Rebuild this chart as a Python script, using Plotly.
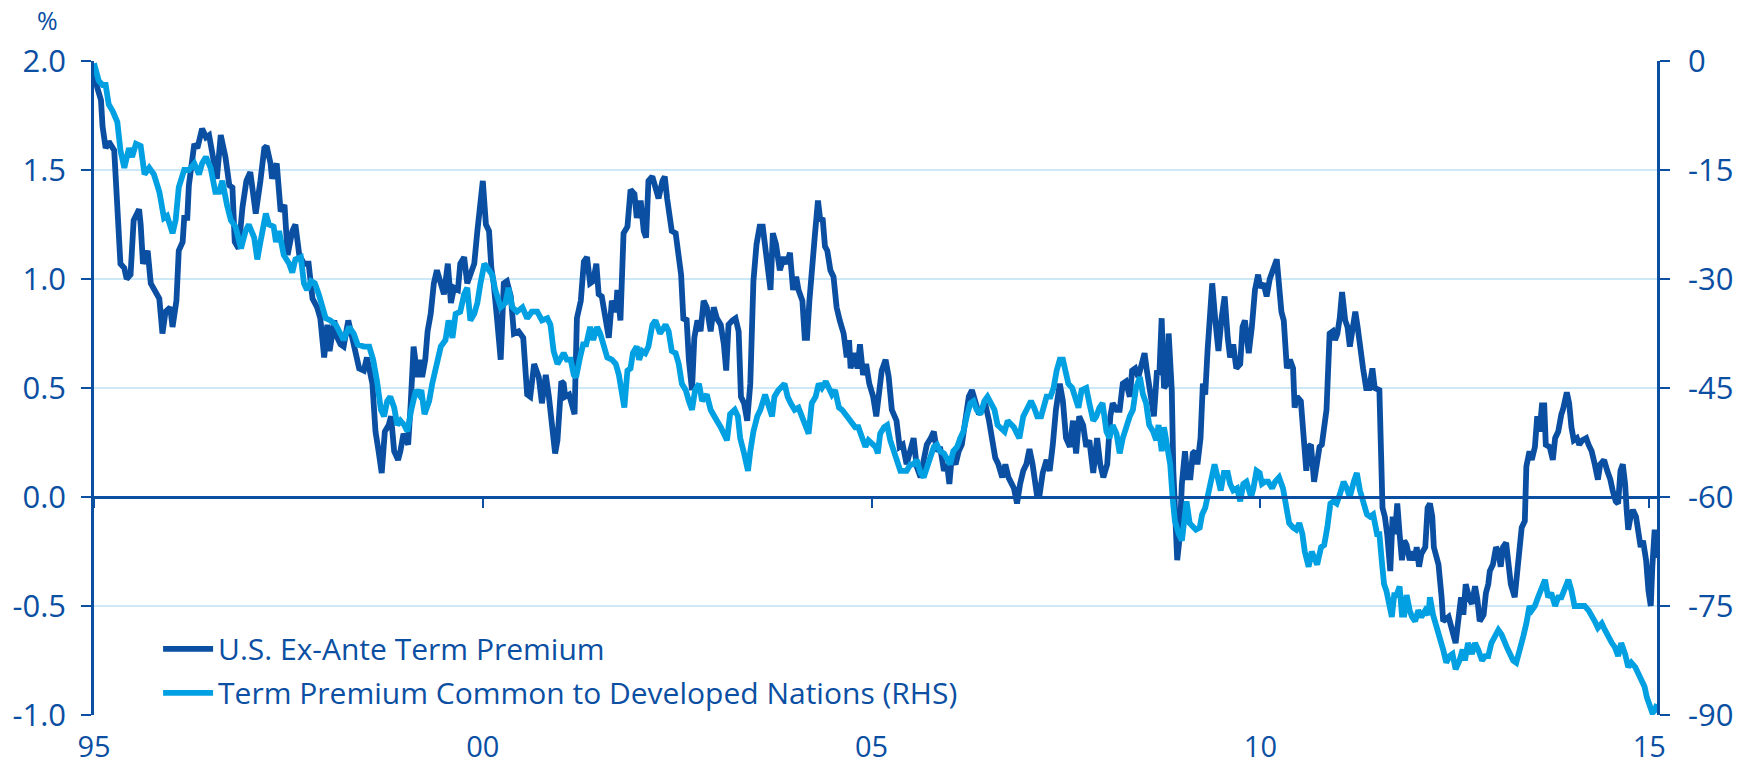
import plotly.graph_objects as go

# ---------------- data ----------------
# U.S. ex-ante term premium, % (left axis)
us_year = [
    1995.00, 1995.04, 1995.09, 1995.11, 1995.15, 1995.19, 1995.26, 1995.29, 1995.34, 1995.39,
    1995.42, 1995.47, 1995.51, 1995.58, 1995.60, 1995.63, 1995.69, 1995.73, 1995.77, 1995.84,
    1995.88, 1995.92, 1995.98, 1996.01, 1996.06, 1996.09, 1996.14, 1996.16, 1996.20, 1996.22,
    1996.29, 1996.33, 1996.39, 1996.44, 1996.48, 1996.52, 1996.58, 1996.63, 1996.69, 1996.74,
    1996.78, 1996.81, 1996.86, 1996.91, 1996.96, 1997.01, 1997.08, 1997.14, 1997.19, 1997.22,
    1997.27, 1997.29, 1997.35, 1997.40, 1997.45, 1997.49, 1997.55, 1997.59, 1997.64, 1997.70,
    1997.76, 1997.81, 1997.87,
    1997.91, 1997.96, 1998.00, 1998.03, 1998.09, 1998.13, 1998.17, 1998.21, 1998.27, 1998.32,
    1998.36, 1998.41, 1998.47, 1998.51, 1998.58, 1998.62, 1998.66, 1998.70, 1998.74, 1998.79,
    1998.82, 1998.86, 1998.91, 1998.94, 1998.98, 1999.04, 1999.07, 1999.11, 1999.16, 1999.20,
    1999.22, 1999.26, 1999.29, 1999.33, 1999.37, 1999.41, 1999.46, 1999.50, 1999.55, 1999.59,
    1999.63, 1999.68, 1999.71, 1999.76, 1999.80, 1999.84, 1999.89, 1999.93, 1999.97, 2000.00,
    2000.04, 2000.08, 2000.11, 2000.14, 2000.19, 2000.23, 2000.27, 2000.31, 2000.36, 2000.40,
    2000.46, 2000.52, 2000.57, 2000.61, 2000.66, 2000.72, 2000.76, 2000.81, 2000.85,
    2000.91, 2000.93, 2000.96, 2001.01, 2001.04, 2001.06, 2001.11, 2001.15, 2001.18, 2001.21,
    2001.26, 2001.30, 2001.34, 2001.38, 2001.42, 2001.46, 2001.49, 2001.53, 2001.58, 2001.62,
    2001.66, 2001.71, 2001.73, 2001.77, 2001.81, 2001.86, 2001.90, 2001.95, 2001.98, 2002.03,
    2002.07, 2002.10, 2002.13, 2002.18, 2002.22, 2002.26, 2002.31, 2002.34, 2002.37, 2002.40,
    2002.43, 2002.48, 2002.52, 2002.55, 2002.58, 2002.62, 2002.65, 2002.69, 2002.72, 2002.76,
    2002.80, 2002.84, 2002.88, 2002.93, 2002.97, 2003.01, 2003.06, 2003.10, 2003.13, 2003.16,
    2003.21, 2003.25, 2003.29, 2003.32, 2003.36, 2003.40, 2003.44, 2003.48, 2003.52, 2003.56,
    2003.60, 2003.65, 2003.70, 2003.73, 2003.77, 2003.82,
    2003.87, 2003.91, 2003.95, 2003.99, 2004.03, 2004.06, 2004.11, 2004.14, 2004.17, 2004.20,
    2004.23, 2004.27, 2004.31, 2004.34, 2004.37, 2004.40, 2004.43, 2004.47, 2004.51, 2004.55,
    2004.59, 2004.64, 2004.68, 2004.71, 2004.73, 2004.78, 2004.82, 2004.85, 2004.89, 2004.93,
    2004.97, 2005.02, 2005.06, 2005.10, 2005.13, 2005.18, 2005.22, 2005.26, 2005.32, 2005.36,
    2005.40, 2005.45, 2005.49, 2005.54, 2005.58, 2005.63, 2005.67, 2005.71, 2005.76, 2005.80,
    2005.84, 2005.88, 2005.93, 2005.97, 2006.00, 2006.03, 2006.08, 2006.12, 2006.16, 2006.21,
    2006.25, 2006.29, 2006.33, 2006.38, 2006.42, 2006.46, 2006.51, 2006.55, 2006.59, 2006.63,
    2006.68, 2006.72, 2006.76,
    2006.83, 2006.87, 2006.91, 2006.95, 2006.99, 2007.03, 2007.07, 2007.13, 2007.16, 2007.20,
    2007.25, 2007.29, 2007.33, 2007.37, 2007.42, 2007.46, 2007.50, 2007.55, 2007.59, 2007.63,
    2007.67, 2007.72, 2007.76, 2007.80, 2007.85, 2007.90, 2007.94, 2007.98, 2008.03, 2008.07,
    2008.10, 2008.15, 2008.19, 2008.23, 2008.27, 2008.32, 2008.35, 2008.39, 2008.43, 2008.48,
    2008.51, 2008.54, 2008.58, 2008.63, 2008.67, 2008.70, 2008.73, 2008.76, 2008.80, 2008.82,
    2008.86, 2008.88, 2008.93, 2008.96, 2008.99, 2009.03, 2009.06, 2009.10, 2009.13, 2009.16,
    2009.19, 2009.23, 2009.26, 2009.29, 2009.32, 2009.35, 2009.38, 2009.42, 2009.46, 2009.50,
    2009.54, 2009.58, 2009.61, 2009.65, 2009.69,
    2009.74, 2009.77, 2009.80, 2009.85, 2009.89, 2009.93, 2009.97, 2010.00, 2010.04, 2010.08,
    2010.12, 2010.17, 2010.21, 2010.27, 2010.30, 2010.32, 2010.34, 2010.38, 2010.42, 2010.44,
    2010.47, 2010.52, 2010.55, 2010.59, 2010.62, 2010.65, 2010.69, 2010.72, 2010.76, 2010.79,
    2010.82, 2010.85, 2010.89, 2010.93, 2010.96, 2010.99, 2011.02, 2011.05, 2011.09, 2011.12,
    2011.15, 2011.19, 2011.22, 2011.25, 2011.28, 2011.32, 2011.36, 2011.40, 2011.44, 2011.47,
    2011.53, 2011.55, 2011.57, 2011.60, 2011.63, 2011.67, 2011.70, 2011.73, 2011.76, 2011.79,
    2011.82, 2011.85, 2011.88, 2011.92, 2011.95, 2011.98, 2012.01, 2012.04, 2012.07, 2012.12,
    2012.15,
    2012.18, 2012.21, 2012.23, 2012.29, 2012.33, 2012.35, 2012.42, 2012.46, 2012.48, 2012.51,
    2012.55, 2012.58, 2012.61, 2012.64, 2012.69, 2012.72, 2012.76, 2012.79, 2012.82, 2012.87,
    2012.90, 2012.93, 2012.95, 2012.99, 2013.03, 2013.06, 2013.09, 2013.12, 2013.16, 2013.19,
    2013.22, 2013.27, 2013.30, 2013.34, 2013.36, 2013.40, 2013.42, 2013.46, 2013.49, 2013.53,
    2013.56, 2013.59, 2013.62, 2013.65, 2013.67, 2013.72, 2013.76, 2013.79, 2013.83, 2013.87,
    2013.89, 2013.94, 2013.97, 2014.00, 2014.03, 2014.07, 2014.10, 2014.14, 2014.19, 2014.22,
    2014.26, 2014.30, 2014.34, 2014.37, 2014.42, 2014.46, 2014.50, 2014.53, 2014.57, 2014.60,
    2014.63, 2014.66, 2014.69, 2014.71, 2014.73, 2014.76, 2014.79, 2014.83, 2014.86, 2014.89,
    2014.92, 2014.96, 2014.99, 2015.02, 2015.04, 2015.07, 2015.10,
]
us_tp = [
    1.98, 1.88, 1.82, 1.70, 1.60, 1.63, 1.59, 1.34, 1.07, 1.05,
    1.00, 1.02, 1.27, 1.32, 1.25, 1.07, 1.13, 0.98, 0.95, 0.91,
    0.75, 0.85, 0.87, 0.78, 0.90, 1.13, 1.17, 1.28, 1.28, 1.43,
    1.62, 1.60, 1.69, 1.65, 1.66, 1.59, 1.46, 1.66, 1.56, 1.43,
    1.42, 1.17, 1.14, 1.33, 1.45, 1.49, 1.30, 1.45, 1.60, 1.61,
    1.53, 1.46, 1.53, 1.31, 1.34, 1.11, 1.22, 1.25, 1.11, 1.07,
    1.07, 0.91, 0.87,
    0.82, 0.64, 0.79, 0.67, 0.81, 0.73, 0.70, 0.69, 0.81, 0.73,
    0.64, 0.59, 0.58, 0.64, 0.52, 0.30, 0.21, 0.11, 0.30, 0.33,
    0.37, 0.21, 0.17, 0.21, 0.29, 0.24, 0.41, 0.69, 0.55, 0.63,
    0.55, 0.63, 0.76, 0.84, 0.98, 1.04, 0.98, 0.93, 1.07, 0.89,
    0.96, 0.95, 1.07, 1.10, 0.98, 1.02, 1.07, 1.22, 1.37, 1.45,
    1.25, 1.22, 1.05, 0.98, 0.79, 0.63, 0.98, 0.99, 0.92, 0.75,
    0.76, 0.73, 0.47, 0.46, 0.61, 0.55, 0.43, 0.56, 0.46,
    0.24, 0.20, 0.26, 0.53, 0.52, 0.46, 0.47, 0.41, 0.38, 0.82,
    0.90, 1.08, 1.10, 0.98, 0.99, 1.07, 0.93, 0.92, 0.79, 0.73,
    0.90, 0.85, 0.95, 0.81, 1.21, 1.24, 1.41, 1.39, 1.28, 1.36,
    1.22, 1.19, 1.45, 1.47, 1.42, 1.37, 1.45, 1.47, 1.37, 1.31,
    1.22, 1.21, 1.07, 1.02, 0.81, 0.82, 0.63, 0.49, 0.73, 0.81,
    0.76, 0.90, 0.87, 0.76, 0.87, 0.82, 0.79, 0.70, 0.58, 0.79,
    0.81, 0.82, 0.76, 0.46, 0.43, 0.35, 0.52, 0.99, 1.16, 1.24,
    1.24, 1.07, 0.95, 1.21, 1.16, 1.04,
    1.10, 1.07, 1.12, 0.95, 1.01, 0.95, 0.90, 0.73, 0.73, 0.90,
    1.07, 1.20, 1.36, 1.27, 1.28, 1.15, 1.13, 1.04, 1.01, 0.87,
    0.81, 0.75, 0.64, 0.72, 0.59, 0.66, 0.59, 0.70, 0.56, 0.61,
    0.52, 0.46, 0.37, 0.47, 0.58, 0.63, 0.55, 0.40, 0.35, 0.23,
    0.24, 0.15, 0.21, 0.27, 0.14, 0.09, 0.17, 0.24, 0.27, 0.30,
    0.21, 0.23, 0.12, 0.15, 0.06, 0.18, 0.15, 0.21, 0.24, 0.38,
    0.46, 0.49, 0.44, 0.38, 0.40, 0.43, 0.35, 0.27, 0.18, 0.15,
    0.09, 0.15, 0.09,
    0.04, -0.03, 0.06, 0.12, 0.15, 0.22, 0.15, 0.00, 0.01, 0.11,
    0.17, 0.12, 0.24, 0.40, 0.52, 0.44, 0.27, 0.23, 0.35, 0.20,
    0.37, 0.33, 0.23, 0.26, 0.11, 0.27, 0.15, 0.09, 0.15, 0.37,
    0.43, 0.40, 0.40, 0.52, 0.53, 0.46, 0.58, 0.59, 0.55, 0.64,
    0.66, 0.58, 0.49, 0.37, 0.58, 0.56, 0.82, 0.50, 0.52, 0.75,
    0.49, 0.12, -0.29, -0.19, 0.06, 0.21, 0.09, 0.09, 0.20, 0.21,
    0.15, 0.27, 0.52, 0.47, 0.67, 0.87, 0.98, 0.81, 0.67, 0.82,
    0.92, 0.73, 0.64, 0.70, 0.59,
    0.61, 0.78, 0.81, 0.66, 0.78, 0.95, 1.02, 0.96, 0.98, 0.92,
    1.00, 1.06, 1.09, 0.85, 0.81, 0.70, 0.59, 0.63, 0.59, 0.41,
    0.46, 0.44, 0.26, 0.12, 0.23, 0.24, 0.07, 0.14, 0.23, 0.24,
    0.35, 0.40, 0.75, 0.76, 0.72, 0.75, 0.82, 0.94, 0.81, 0.78,
    0.69, 0.78, 0.85, 0.78, 0.67, 0.59, 0.50, 0.50, 0.59, 0.50,
    0.49, 0.29, -0.05, -0.09, -0.17, -0.34, -0.09, -0.17, -0.03, -0.17,
    -0.29, -0.20, -0.22, -0.29, -0.25, -0.29, -0.23, -0.32, -0.26, -0.23,
    -0.05,
    -0.03, -0.09, -0.23, -0.31, -0.46, -0.57, -0.55, -0.60, -0.64, -0.67,
    -0.55, -0.46, -0.54, -0.40, -0.47, -0.49, -0.41, -0.47, -0.57, -0.54,
    -0.44, -0.40, -0.34, -0.31, -0.23, -0.25, -0.32, -0.23, -0.21, -0.31,
    -0.40, -0.46, -0.34, -0.21, -0.14, -0.11, 0.14, 0.21, 0.17, 0.23,
    0.37, 0.30, 0.42, 0.42, 0.24, 0.23, 0.17, 0.27, 0.30, 0.38,
    0.40, 0.48, 0.43, 0.32, 0.26, 0.27, 0.24, 0.26, 0.27, 0.24,
    0.21, 0.15, 0.08, 0.15, 0.17, 0.12, 0.08, 0.03, -0.02, -0.03,
    0.12, 0.15, 0.06, -0.06, -0.15, -0.09, -0.06, -0.09, -0.15, -0.23,
    -0.20, -0.29, -0.43, -0.50, -0.32, -0.15, -0.28,
]

# Term premium common to developed nations (right axis, RHS units)
dn_year = [
    1995.00, 1995.06, 1995.11, 1995.15, 1995.19, 1995.24, 1995.30, 1995.34, 1995.39, 1995.45,
    1995.49, 1995.54, 1995.60, 1995.65, 1995.71, 1995.77, 1995.84, 1995.90, 1995.94, 1996.01,
    1996.05, 1996.09, 1996.16, 1996.22, 1996.29, 1996.35, 1996.39, 1996.44, 1996.50, 1996.56,
    1996.61, 1996.65, 1996.71, 1996.76, 1996.82, 1996.89, 1996.95, 1996.99, 1997.06, 1997.10,
    1997.14, 1997.21, 1997.25, 1997.31, 1997.34, 1997.38, 1997.44, 1997.51, 1997.55, 1997.59,
    1997.66, 1997.70, 1997.74, 1997.79, 1997.84, 1997.89,
    1997.98, 1998.04, 1998.11, 1998.15, 1998.21, 1998.28, 1998.34, 1998.39, 1998.47, 1998.54,
    1998.59, 1998.64, 1998.69, 1998.73, 1998.77, 1998.81, 1998.86, 1998.90, 1998.94, 1998.99,
    1999.03, 1999.08, 1999.14, 1999.18, 1999.21, 1999.25, 1999.31, 1999.35, 1999.40, 1999.46,
    1999.52, 1999.56, 1999.61, 1999.65, 1999.71, 1999.76, 1999.80, 1999.84, 1999.89, 1999.93,
    1999.97, 2000.02, 2000.08, 2000.12, 2000.16, 2000.23, 2000.29, 2000.33, 2000.38, 2000.44,
    2000.51, 2000.57, 2000.63, 2000.70, 2000.76, 2000.83,
    2000.87, 2000.91, 2000.96, 2001.00, 2001.04, 2001.08, 2001.13, 2001.17, 2001.20, 2001.25,
    2001.29, 2001.33, 2001.38, 2001.42, 2001.47, 2001.51, 2001.56, 2001.60, 2001.66, 2001.71,
    2001.75, 2001.79, 2001.82, 2001.86, 2001.90, 2001.93, 2001.98, 2002.01, 2002.05, 2002.09,
    2002.13, 2002.18, 2002.22, 2002.28, 2002.35, 2002.39, 2002.43, 2002.48, 2002.52, 2002.56,
    2002.61, 2002.65, 2002.69, 2002.73, 2002.78, 2002.82, 2002.88, 2002.93, 2002.97, 2003.01,
    2003.06, 2003.10, 2003.14, 2003.18, 2003.24, 2003.28, 2003.31, 2003.36, 2003.41, 2003.44,
    2003.48, 2003.53, 2003.57, 2003.63, 2003.68, 2003.72, 2003.75, 2003.80,
    2003.88, 2003.92, 2003.96, 2004.01, 2004.06, 2004.11, 2004.15, 2004.19, 2004.23, 2004.28,
    2004.32, 2004.36, 2004.41, 2004.45, 2004.49, 2004.53, 2004.58, 2004.62, 2004.66, 2004.71,
    2004.75, 2004.79, 2004.83, 2004.88, 2004.92, 2004.96, 2005.01, 2005.05, 2005.08, 2005.11,
    2005.16, 2005.20, 2005.24, 2005.28, 2005.33, 2005.37, 2005.41, 2005.45, 2005.50, 2005.54,
    2005.58, 2005.63, 2005.67, 2005.71, 2005.75, 2005.80, 2005.84, 2005.88, 2005.93, 2005.97,
    2006.01, 2006.05, 2006.10, 2006.14, 2006.18, 2006.23, 2006.27, 2006.31, 2006.35, 2006.40,
    2006.45, 2006.49, 2006.54, 2006.58, 2006.62, 2006.66, 2006.71, 2006.75,
    2006.83, 2006.87, 2006.90, 2006.95, 2007.00, 2007.05, 2007.09, 2007.13, 2007.18, 2007.21,
    2007.25, 2007.30, 2007.34, 2007.38, 2007.42, 2007.46, 2007.49, 2007.53, 2007.58, 2007.62,
    2007.66, 2007.70, 2007.76, 2007.80, 2007.85, 2007.89, 2007.93, 2007.97, 2008.02, 2008.06,
    2008.10, 2008.15, 2008.19, 2008.23, 2008.27, 2008.32, 2008.36, 2008.40, 2008.45, 2008.49,
    2008.53, 2008.57, 2008.62, 2008.66, 2008.69, 2008.73, 2008.76, 2008.81, 2008.84, 2008.87,
    2008.90, 2008.95, 2008.99, 2009.02, 2009.05, 2009.09, 2009.13, 2009.17, 2009.22, 2009.25,
    2009.29, 2009.33, 2009.38, 2009.41, 2009.45, 2009.49, 2009.53, 2009.58, 2009.61, 2009.65,
    2009.70,
    2009.74, 2009.78, 2009.82, 2009.88, 2009.91, 2009.95, 2009.99, 2010.02, 2010.06, 2010.10,
    2010.15, 2010.19, 2010.24, 2010.29, 2010.32, 2010.34, 2010.37, 2010.42, 2010.46, 2010.50,
    2010.54, 2010.57, 2010.62, 2010.66, 2010.69, 2010.73, 2010.78, 2010.82, 2010.86, 2010.90,
    2010.94, 2010.98, 2011.02, 2011.07, 2011.11, 2011.15, 2011.20, 2011.24, 2011.28, 2011.32,
    2011.37, 2011.41, 2011.45, 2011.50, 2011.53, 2011.56, 2011.59, 2011.62, 2011.66, 2011.69,
    2011.72, 2011.75, 2011.79, 2011.82, 2011.85, 2011.88, 2011.92, 2011.95, 2011.99, 2012.03,
    2012.07, 2012.12, 2012.16,
    2012.18, 2012.22, 2012.27, 2012.31, 2012.35, 2012.39, 2012.43, 2012.47, 2012.51, 2012.56,
    2012.60, 2012.63, 2012.67, 2012.72, 2012.76, 2012.80, 2012.85, 2012.89, 2012.93, 2012.97,
    2013.02, 2013.06, 2013.10, 2013.13, 2013.17, 2013.21, 2013.25, 2013.29, 2013.34, 2013.38,
    2013.42, 2013.46, 2013.49, 2013.53, 2013.57, 2013.62, 2013.66, 2013.70, 2013.74, 2013.79,
    2013.83, 2013.87, 2013.92, 2013.96, 2014.00, 2014.04, 2014.09, 2014.13, 2014.17, 2014.22,
    2014.26, 2014.30, 2014.34, 2014.39, 2014.43, 2014.47, 2014.52, 2014.56, 2014.60, 2014.64,
    2014.69, 2014.73, 2014.77, 2014.82, 2014.86, 2014.90, 2014.94, 2014.97, 2015.01, 2015.04,
    2015.07, 2015.10,
]
dn_tp = [
    -0.3, -2.7, -3.3, -3.3, -6.0, -6.9, -8.4, -12.3, -14.7, -12.0,
    -13.2, -11.4, -11.7, -15.6, -14.7, -15.6, -18.0, -21.6, -21.3, -23.7,
    -21.9, -17.4, -15.0, -15.0, -14.1, -15.6, -14.1, -13.2, -14.7, -18.0,
    -18.0, -16.5, -19.8, -21.9, -22.8, -25.8, -23.4, -22.5, -24.3, -27.3,
    -24.9, -21.0, -22.5, -22.8, -24.9, -23.4, -26.7, -27.9, -29.1, -27.3,
    -27.0, -30.6, -31.5, -30.3, -30.6, -32.1,
    -35.4, -35.7, -36.3, -37.2, -38.4, -36.6, -37.5, -39.0, -39.3, -39.3,
    -41.1, -44.1, -48.0, -48.9, -46.8, -46.2, -47.7, -50.1, -49.5, -50.1,
    -51.0, -48.0, -45.3, -45.9, -45.3, -48.6, -46.8, -44.4, -41.7, -39.3,
    -38.4, -35.7, -38.1, -34.8, -34.5, -32.1, -31.2, -35.7, -34.8, -33.3,
    -30.6, -27.9, -28.8, -29.4, -31.5, -33.9, -33.3, -31.2, -33.9, -34.5,
    -33.9, -35.4, -34.5, -34.5, -35.7, -35.4,
    -36.3, -39.9, -41.7, -40.8, -40.2, -41.1, -41.1, -43.2, -43.5, -40.8,
    -39.0, -39.0, -36.6, -38.4, -36.6, -37.5, -39.3, -40.8, -41.1, -41.7,
    -43.2, -45.3, -47.7, -42.6, -42.3, -40.2, -39.3, -41.1, -39.9, -40.2,
    -39.3, -36.3, -35.7, -37.5, -36.3, -37.2, -39.9, -40.2, -41.7, -44.4,
    -45.3, -46.8, -48.0, -45.3, -44.4, -46.8, -45.9, -48.0, -48.6, -49.5,
    -50.4, -51.3, -52.2, -48.6, -48.0, -48.9, -51.9, -54.0, -56.4, -53.7,
    -51.0, -48.9, -48.0, -45.9, -47.7, -48.9, -46.2, -45.3,
    -44.4, -46.2, -47.1, -48.0, -47.7, -48.9, -50.1, -51.3, -47.1, -46.2,
    -44.4, -45.0, -44.1, -45.0, -45.9, -45.3, -47.7, -48.0, -48.6, -49.5,
    -50.1, -50.4, -50.4, -51.9, -53.1, -52.2, -52.8, -53.1, -54.0, -51.3,
    -50.4, -50.1, -52.2, -53.7, -54.9, -56.4, -56.4, -56.4, -55.5, -55.5,
    -54.9, -56.7, -57.3, -55.8, -54.6, -53.1, -52.8, -53.7, -54.0, -54.9,
    -55.5, -53.7, -53.1, -51.9, -51.0, -48.6, -47.1, -46.8, -48.0, -48.6,
    -46.8, -46.2, -47.1, -48.0, -50.1, -50.4, -51.0, -49.5,
    -50.4, -51.3, -51.9, -48.9, -48.0, -46.8, -47.7, -48.9, -48.9, -47.7,
    -46.2, -46.2, -45.0, -42.6, -41.1, -41.1, -42.3, -44.4, -45.0, -46.2,
    -47.7, -45.3, -45.0, -47.1, -49.5, -48.9, -47.7, -47.1, -51.0, -51.9,
    -50.1, -51.3, -54.0, -51.9, -50.4, -48.9, -48.0, -45.0, -43.5, -45.9,
    -47.1, -50.1, -51.0, -52.2, -50.1, -53.7, -50.4, -53.1, -55.5, -60.0,
    -63.3, -65.1, -66.0, -63.3, -60.6, -63.6, -64.2, -64.5, -64.2, -62.4,
    -61.5, -59.4, -56.4, -55.5, -57.3, -59.1, -56.7, -56.7, -58.2, -59.1,
    -58.8,
    -60.6, -58.2, -57.9, -60.0, -58.8, -56.4, -56.7, -58.2, -57.9, -57.9,
    -58.8, -57.9, -57.3, -58.8, -60.6, -62.4, -63.6, -64.2, -64.5, -63.6,
    -65.1, -67.5, -69.6, -67.5, -68.4, -69.3, -66.9, -66.6, -64.2, -60.9,
    -60.6, -60.9, -59.7, -57.9, -58.8, -60.0, -57.9, -56.7, -59.1, -60.6,
    -62.4, -62.7, -62.4, -65.1, -65.1, -68.7, -72.0, -72.9, -75.6, -76.5,
    -73.5, -73.5, -72.3, -76.2, -76.2, -73.5, -75.6, -76.5, -77.1, -75.6,
    -76.5, -75.6, -76.2,
    -73.8, -76.2, -78.0, -78.9, -81.0, -82.8, -81.9, -81.6, -83.7, -82.5,
    -81.0, -82.5, -80.1, -81.6, -80.1, -81.0, -82.5, -81.9, -81.9, -80.1,
    -79.2, -78.3, -78.9, -79.8, -80.7, -81.6, -82.5, -82.8, -81.0, -79.2,
    -77.4, -75.0, -75.6, -75.0, -73.8, -72.3, -71.4, -73.8, -73.2, -75.0,
    -73.8, -73.8, -72.3, -71.4, -72.9, -75.0, -75.0, -75.0, -75.0, -75.6,
    -76.2, -77.1, -78.0, -77.4, -78.3, -79.2, -80.1, -80.7, -81.9, -80.1,
    -81.6, -83.4, -82.8, -83.4, -84.3, -85.2, -86.1, -87.6, -88.8, -89.7,
    -89.4, -88.5,
]

x_tick_vals = [1995, 2000, 2005, 2010, 2015]
x_tick_text = ["95", "00", "05", "10", "15"]
left_tick_vals = [2.0, 1.5, 1.0, 0.5, 0.0, -0.5, -1.0]
left_tick_text = ["2.0", "1.5", "1.0", "0.5", "0.0", "-0.5", "-1.0"]
right_tick_vals = [0, -15, -30, -45, -60, -75, -90]
right_tick_text = ["0", "-15", "-30", "-45", "-60", "-75", "-90"]

series_names = ["U.S. Ex-Ante Term Premium",
                "Term Premium Common to Developed Nations (RHS)"]

# ---------------- styling ----------------
DARK = "#0b4fa3"
LIGHT = "#00a0e2"
GRID = "#cde9f7"
TEXT = "#0b4fa3"
FONT = "Open Sans"
X_RANGE = [1995, 2015.1]

fig = go.Figure()
fig.add_trace(go.Scatter(x=us_year, y=us_tp, name=series_names[0], mode="lines",
                         legendgroup="a",
                         line=dict(color=DARK, width=5.8), yaxis="y"))
fig.add_trace(go.Scatter(x=dn_year, y=dn_tp, name=series_names[1], mode="lines",
                         legendgroup="b",
                         line=dict(color=LIGHT, width=5.8), yaxis="y2"))
# carrier for the zero-line axis with its year ticks
fig.add_trace(go.Scatter(x=[None], y=[None], xaxis="x2", yaxis="y",
                         showlegend=False, hoverinfo="skip"))

fig.update_layout(
    width=1748, height=767,
    margin=dict(l=94, r=91, t=61, b=52),
    paper_bgcolor="white", plot_bgcolor="white",
    font=dict(family=FONT, size=31, color=TEXT),
    showlegend=True,
    legend=dict(x=0.041, y=0.141, xanchor="left", yanchor="top",
                bgcolor="rgba(0,0,0,0)", font=dict(size=30, color=TEXT),
                itemwidth=50, traceorder="grouped", tracegroupgap=2),
    xaxis=dict(range=X_RANGE, tickvals=x_tick_vals, ticktext=x_tick_text,
               showline=False, showgrid=False, zeroline=False, ticks="",
               ticklabelstandoff=12, tickfont=dict(size=29), automargin=False),
    xaxis2=dict(overlaying="x", anchor="free", position=1/3, side="bottom",
                range=X_RANGE, tickvals=x_tick_vals, showticklabels=False,
                showline=True, linecolor=DARK, linewidth=2.5,
                ticks="outside", ticklen=9, tickwidth=2, tickcolor=DARK,
                showgrid=False, zeroline=False, automargin=False),
    yaxis=dict(range=[-1, 2], tickvals=left_tick_vals, ticktext=left_tick_text,
               showline=True, linecolor=DARK, linewidth=2.5,
               ticks="outside", ticklen=10, tickwidth=2, tickcolor=DARK,
               showgrid=True, gridcolor=GRID, gridwidth=1.5, zeroline=False,
               ticklabelstandoff=9, automargin=False),
    yaxis2=dict(overlaying="y", side="right", range=[-90, 0],
                tickvals=right_tick_vals, ticktext=right_tick_text,
                showline=True, linecolor=DARK, linewidth=2.5,
                ticks="outside", ticklen=10, tickwidth=2, tickcolor=DARK,
                showgrid=False, zeroline=False, ticklabelstandoff=12,
                automargin=False),
    annotations=[dict(text="%", xref="paper", yref="paper", x=-0.030, y=1.063,
                      xanchor="center", yanchor="middle", showarrow=False,
                      font=dict(size=25, color=TEXT, family=FONT))],
)

# remove the browser's default 8px page margin so the figure sits at (0, 0)
fig.write_html("out.html",
               config={"displayModeBar": False},
               post_script="document.body.style.margin='0';document.body.style.overflow='hidden';")
